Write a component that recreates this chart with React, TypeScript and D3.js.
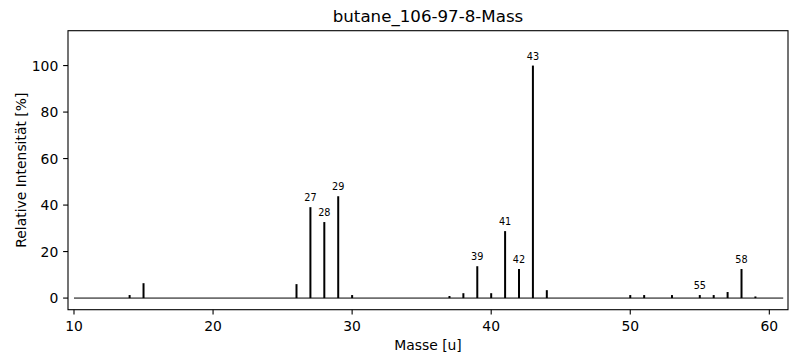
import React from "react";
import * as d3 from "d3";

const masses = [14, 15, 26, 27, 28, 29, 30, 37, 38, 39, 40, 41, 42, 43, 44, 50, 51, 53, 55, 56, 57, 58, 59];
const intensities = [1.3, 6.4, 6.0, 39.1, 32.7, 43.8, 1.3, 0.9, 2.1, 13.7, 2.1, 28.8, 12.5, 100, 3.4, 1.3, 1.3, 1.3, 1.3, 1.3, 2.6, 12.5, 0.7];
const labeledMasses = [27, 28, 29, 39, 41, 42, 43, 55, 58];
const xTicks = [10, 20, 30, 40, 50, 60];
const yTicks = [0, 20, 40, 60, 80, 100];
const baselineRange = [10, 61];
const title = "butane_106-97-8-Mass";
const xLabel = "Masse [u]";
const yLabel = "Relative Intensität [%]";

const W = 806;
const H = 359;
const L = 68, R = 788, T = 30.7, B = 309.7;
const FONT = "'DejaVu Sans', sans-serif";

export default function App() {
  const x = d3.scaleLinear().domain([9.569, 61.343]).range([L, R]);
  const y = d3.scaleLinear().domain([-5, 115]).range([B, T]);
  const data = masses.map((m, i) => ({ m, v: intensities[i] }));
  return (
    <svg width={W} height={H} style={{ position: "absolute", left: 0, top: 0, background: "#fff" }}>
      <rect x={0} y={0} width={W} height={H} fill="#fff" />
      <line x1={x(baselineRange[0])} x2={x(baselineRange[1])} y1={y(0)} y2={y(0)} stroke="#000" strokeWidth={1} />
      {data.map((d) => (
        <line key={d.m} x1={x(d.m)} x2={x(d.m)} y1={y(0)} y2={y(d.v)} stroke="#000" strokeWidth={2} />
      ))}
      {data.filter((d) => labeledMasses.includes(d.m)).map((d) => (
        <text key={"l" + d.m} x={x(d.m)} y={y(d.v) - 6} fontSize={9.7} fontFamily={FONT} textAnchor="middle" fill="#000">
          {d.m}
        </text>
      ))}
      <rect x={L} y={T} width={R - L} height={B - T} fill="none" stroke="#000" strokeWidth={1.1} />
      {xTicks.map((t) => (
        <g key={"x" + t}>
          <line x1={x(t)} x2={x(t)} y1={B} y2={B + 4.9} stroke="#000" strokeWidth={1.1} />
          <text x={x(t)} y={330.5} fontSize={13.9} fontFamily={FONT} textAnchor="middle" fill="#000">{t}</text>
        </g>
      ))}
      {yTicks.map((t) => (
        <g key={"y" + t}>
          <line x1={L} x2={L - 4.9} y1={y(t)} y2={y(t)} stroke="#000" strokeWidth={1.1} />
          <text x={L - 9.7} y={y(t) + 5} fontSize={13.9} fontFamily={FONT} textAnchor="end" fill="#000">{t}</text>
        </g>
      ))}
      <text x={(L + R) / 2} y={22.4} fontSize={16.67} fontFamily={FONT} textAnchor="middle" fill="#000">{title}</text>
      <text x={(L + R) / 2} y={350} fontSize={13.9} fontFamily={FONT} textAnchor="middle" fill="#000">{xLabel}</text>
      <text transform={`translate(26,${(T + B) / 2}) rotate(-90)`} fontSize={13.9} fontFamily={FONT} textAnchor="middle" fill="#000">{yLabel}</text>
    </svg>
  );
}
